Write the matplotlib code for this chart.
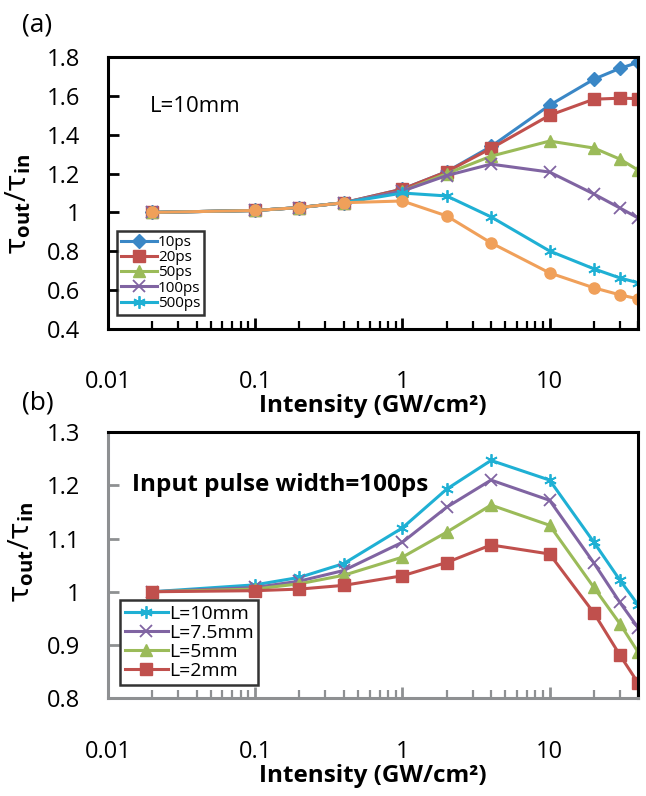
import matplotlib
matplotlib.use("Agg")
import matplotlib.pyplot as plt

plt.rcParams['font.family'] = ['Open Sans', 'DejaVu Sans']
plt.rcParams['mathtext.fontset'] = 'custom'
plt.rcParams['mathtext.rm'] = 'Open Sans'
plt.rcParams['mathtext.bf'] = 'Open Sans:bold'
plt.rcParams['mathtext.it'] = 'DejaVu Sans'

# --- data (a): pulse width series, L = 10mm ---
intensity = [0.02, 0.1, 0.2, 0.4, 1, 2, 4, 10, 20, 30, 40]
w10ps = [1.0, 1.01, 1.025, 1.05, 1.12, 1.21, 1.34, 1.553, 1.687, 1.743, 1.774]
w20ps = [1.0, 1.01, 1.025, 1.05, 1.12, 1.21, 1.33, 1.501, 1.584, 1.589, 1.587]
w50ps = [1.0, 1.01, 1.025, 1.05, 1.11, 1.20, 1.29, 1.368, 1.332, 1.275, 1.218]
w100ps = [1.0, 1.01, 1.025, 1.05, 1.11, 1.19, 1.249, 1.208, 1.095, 1.023, 0.971]
w500ps = [1.0, 1.01, 1.025, 1.05, 1.10, 1.085, 0.977, 0.801, 0.709, 0.662, 0.637]
wlong = [1.0, 1.01, 1.025, 1.05, 1.059, 0.982, 0.843, 0.688, 0.611, 0.575, 0.554]

# --- data (b): crystal length series, 100ps ---
L10 = [1.0, 1.013, 1.027, 1.053, 1.12, 1.193, 1.247, 1.21, 1.093, 1.022, 0.975]
L75 = [1.0, 1.008, 1.02, 1.04, 1.093, 1.159, 1.21, 1.172, 1.054, 0.98, 0.932]
L5 = [1.0, 1.005, 1.015, 1.031, 1.065, 1.112, 1.163, 1.125, 1.008, 0.94, 0.886]
L2 = [1.0, 1.002, 1.005, 1.012, 1.03, 1.055, 1.088, 1.071, 0.96, 0.881, 0.828]

blue = '#3a87c6'
red = '#c0504d'
green = '#9bbb59'
purple = '#8064a2'
aqua = '#1fb0d4'
orange = '#f0a05a'
gray = '#8e9092'
asterisk = (6, 2, 0)

fig = plt.figure(figsize=(6.46, 7.96), dpi=100)
ax1 = fig.add_axes([0.167, 0.587, 0.821, 0.341])
ax2 = fig.add_axes([0.167, 0.123, 0.821, 0.334])

ax1.plot(intensity, w10ps, color=blue, lw=2.2, marker='D', ms=7, label='10ps')
ax1.plot(intensity, w20ps, color=red, lw=2.2, marker='s', ms=8, label='20ps')
ax1.plot(intensity, w50ps, color=green, lw=2.2, marker='^', ms=8, label='50ps')
ax1.plot(intensity, w100ps, color=purple, lw=2.2, marker='x', ms=8, mew=1.3, label='100ps')
ax1.plot(intensity, w500ps, color=aqua, lw=2.2, marker=asterisk, ms=9, mew=1.3, label='500ps')
ax1.plot(intensity, wlong, color=orange, lw=2.2, marker='o', ms=8)

ax2.plot(intensity, L10, color=aqua, lw=2.2, marker=asterisk, ms=9, mew=1.3, label='L=10mm')
ax2.plot(intensity, L75, color=purple, lw=2.2, marker='x', ms=8, mew=1.3, label='L=7.5mm')
ax2.plot(intensity, L5, color=green, lw=2.2, marker='^', ms=8, label='L=5mm')
ax2.plot(intensity, L2, color=red, lw=2.2, marker='s', ms=8, label='L=2mm')

for ax, lo, hi, step, edge in [(ax1, 0.4, 1.8, 0.2, 'black'), (ax2, 0.8, 1.3, 0.1, gray)]:
    ax.set_xscale('log')
    ax.set_xlim(0.01, 40)
    ax.set_ylim(lo, hi)
    n = int(round((hi - lo) / step))
    ticks = [round(lo + i * step, 2) for i in range(n + 1)]
    ax.set_yticks(ticks)
    ax.set_yticklabels([('%g' % t) for t in ticks])
    ax.set_xticks([0.01, 0.1, 1, 10])
    ax.set_xticklabels(['0.01', '0.1', '1', '10'])
    ax.tick_params(axis='both', which='major', direction='in', length=8, width=2,
                   labelsize=17, color=edge)
    ax.tick_params(axis='x', which='minor', direction='in', length=6, width=1.6, color=edge)
    ax.tick_params(axis='x', which='both', pad=30, top=False)
    ax.tick_params(axis='y', pad=20, right=False)
    for s in ax.spines.values():
        s.set_linewidth(2.2)
        s.set_color('black')
    ax.spines['left'].set_color(edge)
    ax.spines['bottom'].set_color(edge)
    ax.set_xlabel('Intensity (GW/cm²)', fontsize=17.5, fontweight='bold', labelpad=0)
    ax.set_ylabel(r'$\tau_{\mathbf{out}}/\tau_{\mathbf{in}}$', fontsize=21)

ax1.yaxis.set_label_coords(-0.14, 0.46)
ax2.yaxis.set_label_coords(-0.135, 0.55)

ax1.text(0.08, 0.82, 'L=10mm', transform=ax1.transAxes, fontsize=16, va='center')
ax2.text(0.045, 0.8, 'Input pulse width=100ps', transform=ax2.transAxes,
         fontsize=17.5, fontweight='bold', va='center')

leg1 = ax1.legend(loc='upper left', bbox_to_anchor=(0.017, 0.36), fontsize=11,
                  frameon=True, fancybox=False, edgecolor='black', handlelength=2.4,
                  handletextpad=0.05, labelspacing=0.02, borderpad=0.25, borderaxespad=0)
leg1.get_frame().set_linewidth(1.8)
leg2 = ax2.legend(loc='upper left', bbox_to_anchor=(0.023, 0.368), fontsize=14,
                  frameon=True, fancybox=False, edgecolor='black', handlelength=2.2,
                  handletextpad=0.05, labelspacing=0.05, borderpad=0.25, borderaxespad=0)
leg2.get_frame().set_linewidth(1.8)

fig.text(0.034, 0.968, '(a)', fontsize=19, va='center')
fig.text(0.034, 0.494, '(b)', fontsize=19, va='center')

fig.savefig('out.png', dpi=100)
